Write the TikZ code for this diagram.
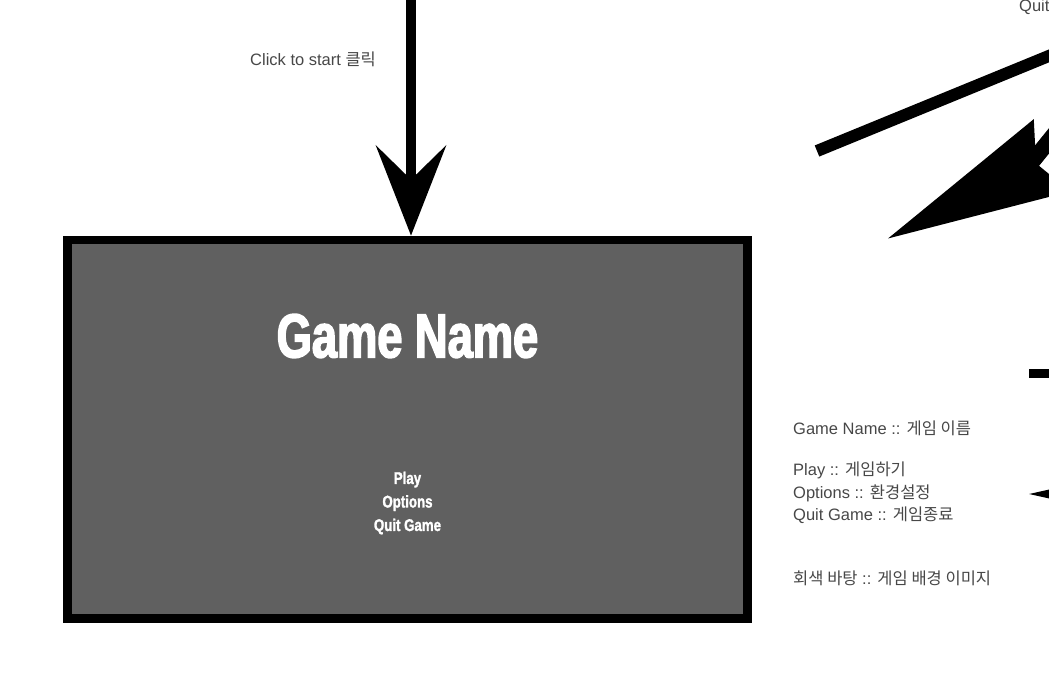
\documentclass[tikz,border=0pt]{standalone}
\usepackage{fontspec}
\setmainfont{Liberation Sans}
\newfontfamily\kr{Noto Sans CJK KR}
\newfontfamily\titlefont[FakeStretch=0.73,FakeBold=2.5]{Liberation Sans Bold}
\newfontfamily\itemfont[FakeStretch=0.78,FakeBold=1.5]{Liberation Sans Bold}
\usetikzlibrary{arrows.meta}
\definecolor{screengray}{HTML}{606060}
\begin{document}
\begin{tikzpicture}[x=1pt,y=-1pt,
    note/.style={anchor=west,inner sep=0pt,text=black!72,font=\fontsize{16.5}{22.5}\selectfont},
    white text/.style={text=white,inner sep=0pt,align=center}]
    \useasboundingbox (0,0) rectangle (1049,679);
    \clip (0,0) rectangle (1049,679);
    \def\ax{411} \def\bx{407.5} \def\by{429.1}
    \node[draw,line width=8.7pt,fill=screengray,minimum width=679.5pt,minimum height=378.2pt,inner sep=0pt] (screen) at (\bx,\by) {};
    \node[white text,font=\titlefont\fontsize{62}{62}\selectfont] (title) at (\bx,336) {Game Name};
    \node[white text,font=\itemfont\fontsize{17}{23.5}\selectfont] (menu) at (\bx,503) {Play\\Options\\Quit Game};
    \node[note] (click) at (250,59) {Click to start {\kr 클릭}};
    \node[note] (quit) at (1019,7) {Quit};
    \node[note] (legname) at (793,428) {Game Name :: {\kr 게임 이름}};
    \node[note,align=left] (legmenu) at (793,493) {Play :: {\kr 게임하기}\\Options :: {\kr 환경설정}\\Quit Game :: {\kr 게임종료}};
    \node[note] (legbg) at (793,578) {{\kr 회색 바탕} :: {\kr 게임 배경 이미지}};
    \coordinate (clicktop) at (\ax,-30);
    \draw[line width=10pt,-{Stealth[length=90pt,width=70pt,inset=34pt]}] (clicktop) -- (clicktop |- screen.north);
    \coordinate (quitfar) at (1200,-6); \coordinate (quitend) at (817,151);
    \draw[line width=12pt] (quitfar) -- (quitend);
    \coordinate (bigfar) at (1121,52); \coordinate (bigknee) at (1027,168); \coordinate (bigtip) at (887,239);
    \draw[line width=16pt,line join=round,-{Stealth[length=183pt,width=78pt,inset=16pt]}] (bigfar) -- (bigknee) -- (bigtip);
    \coordinate (playfar) at (1200,373.5); \coordinate (playend) at (1029,373.5);
    \draw[line width=9pt] (playfar) -- (playend);
    \coordinate (optfar) at (1200,494); \coordinate (opttip) at (1029,494);
    \draw[line width=9pt,-{Stealth[length=90pt,width=40pt,inset=30pt]}] (optfar) -- (opttip);
\end{tikzpicture}
\end{document}
